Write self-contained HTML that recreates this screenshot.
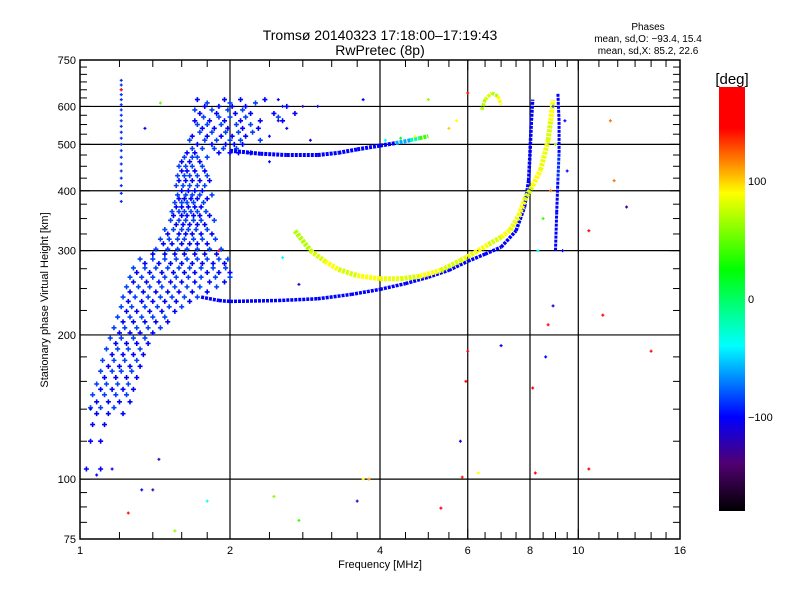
<!DOCTYPE html>
<html><head><meta charset="utf-8">
<style>
body{margin:0;background:#fff;}
svg{display:block;font-family:"Liberation Sans",sans-serif;}
</style></head>
<body>
<svg id="chart" width="800" height="600" viewBox="0 0 800 600">
<rect x="0" y="0" width="800" height="600" fill="#fff"/>
<defs>
<linearGradient id="cbgrad" x1="0" y1="0" x2="0" y2="1">
<stop offset="0" stop-color="#ff0000"/><stop offset="0.097" stop-color="#ff0000"/>
<stop offset="0.25" stop-color="#ffff00"/><stop offset="0.43" stop-color="#00ff00"/>
<stop offset="0.61" stop-color="#00ffff"/><stop offset="0.778" stop-color="#0000ff"/>
<stop offset="0.889" stop-color="#500070"/><stop offset="1" stop-color="#000000"/>
</linearGradient>
</defs>
<text x="380" y="40" text-anchor="middle" font-size="14">Tromsø 20140323 17:18:00–17:19:43</text>
<text x="380" y="55" text-anchor="middle" font-size="14">RwPretec (8p)</text>
<text x="648" y="30" text-anchor="middle" font-size="10">Phases</text>
<text x="648" y="42" text-anchor="middle" font-size="10">mean, sd,O: −93.4, 15.4</text>
<text x="648" y="54" text-anchor="middle" font-size="10">mean, sd,X:  85.2, 22.6</text>
<g id="grid"></g>
<g id="marks"></g>
<g id="axes"></g>
<text x="380" y="568" text-anchor="middle" font-size="11">Frequency [MHz]</text>
<text transform="translate(48,300) rotate(-90)" text-anchor="middle" font-size="11">Stationary phase Virtual Height [km]</text>
<rect x="719" y="87" width="26" height="424" fill="url(#cbgrad)"/>
<text x="732" y="84" text-anchor="middle" font-size="15">[deg]</text>
<g id="cbticks"></g>
</svg>
<script>
// ---- data ----
const cloudHeights = [620,600,580,560,540,520,500,480,460,440,420,400,385,370,355,340,325,310,295,282,270,258,246,235,224,213,202,192,182,172,163,154,145,137,130,120,105];
const cloudFreqs = [
[1.72,1.95,2.1,2.35],[1.78,1.9,2.02,2.15,2.6],[1.74,1.88,2.05,2.2,2.45,2.7],[1.7,1.82,1.95,2.1,2.3,2.55],
[1.76,1.86,1.98,2.12,2.28],[1.68,1.8,1.92,2.02,2.15],[1.72,1.84,1.96,2.04,2.12],[1.64,1.7,1.9,2.0,2.08,2.2],
[1.6,1.66,1.74],[1.6,1.64,1.7,1.78],[1.58,1.63,1.68,1.74,1.82],[1.6,1.65,1.7,1.76],[1.58,1.62,1.67,1.72,1.8],
[1.56,1.6,1.65,1.7,1.75],[1.54,1.6,1.64,1.69,1.74,1.82],[1.56,1.61,1.66,1.72,1.78],[1.5,1.58,1.63,1.68,1.75,1.84],
[1.47,1.53,1.6,1.66,1.72,1.8],[1.4,1.48,1.55,1.62,1.7,1.78,1.88],[1.35,1.44,1.52,1.6,1.68,1.76,1.85,1.95],
[1.3,1.38,1.46,1.54,1.62,1.7,1.8,1.9,2.0],[1.28,1.36,1.44,1.52,1.6,1.7,1.82,1.95],[1.26,1.34,1.42,1.5,1.58,1.68,1.8],
[1.25,1.33,1.4,1.48,1.56,1.66],[1.24,1.3,1.38,1.46,1.55],[1.22,1.28,1.35,1.42,1.5],[1.2,1.26,1.32,1.4],
[1.18,1.24,1.3,1.37],[1.16,1.22,1.28,1.34],[1.14,1.2,1.26,1.32],[1.12,1.18,1.24,1.3],[1.1,1.16,1.22,1.28],
[1.08,1.14,1.2,1.26],[1.08,1.14,1.22],[1.06,1.12],[1.05,1.1],[1.03,1.1]];
const cloudHeights2 = [610,590,570,550,530,510,490,470,450,430,410,392,378,362,347,332,317,302,288,276,264,252,240,229,218,207,197,187,177,168,158,150,141];
const cloudFreqs2 = [
[1.8,2.0,2.25],[1.7,1.84,1.98,2.12],[1.77,1.9,2.0,2.15,2.5],[1.72,1.8,1.92,2.06,2.2],[1.74,1.84,1.96,2.08,2.22],
[1.66,1.78,1.88,2.0,2.1,2.3],[1.68,1.76,1.86,1.94,2.06],[1.62,1.68,1.72,1.8],[1.58,1.63,1.68,1.76],
[1.57,1.62,1.66,1.72,1.8],[1.56,1.61,1.66,1.72,1.78],[1.57,1.63,1.68,1.74,1.84],[1.55,1.6,1.64,1.69,1.77],
[1.53,1.58,1.62,1.67,1.72,1.79],[1.52,1.58,1.63,1.69,1.75,1.86],[1.48,1.54,1.6,1.65,1.71,1.8],
[1.45,1.51,1.57,1.62,1.69,1.76,1.87],[1.42,1.5,1.57,1.64,1.72,1.82,1.92],[1.32,1.4,1.48,1.56,1.64,1.72,1.8,1.9,1.98],
[1.28,1.35,1.42,1.5,1.58,1.66,1.75,1.85,1.96],[1.26,1.33,1.4,1.48,1.56,1.65,1.75,1.87,2.0],[1.24,1.31,1.38,1.46,1.55,1.64,1.74,1.88],
[1.22,1.29,1.37,1.45,1.53,1.62,1.72],[1.21,1.27,1.35,1.43,1.51,1.6],[1.19,1.26,1.33,1.4,1.48],[1.17,1.23,1.3,1.37,1.45],
[1.15,1.21,1.28,1.35],[1.13,1.19,1.25,1.32],[1.11,1.17,1.23,1.3],[1.1,1.16,1.21,1.27],[1.08,1.13,1.19,1.25],
[1.06,1.12,1.18,1.24],[1.05,1.1,1.17]];
const cloudPhase = -100;
const columnFreq = 1.21;
const columnHeights = [380,395,410,425,440,455,470,485,500,515,530,545,560,575,590,605,620,635,650,665,680];
const traceO = [[1.75,240,-100],[1.9,236,-100],[2,235,-100],[2.5,236,-100],[3,238,-100],[3.5,243,-100],[4,249,-100],[4.5,256,-100],[5,264,-100],[5.5,273,-100],[6,285,-100],[6.5,295,-100],[7,305,-100],[7.5,330,-100],[7.8,370,-100],[7.95,420,-100],[8,480,-100],[8.05,560,-100],[8.1,620,-90]];
const traceUpper = [[2,485,-100],[2.3,478,-100],[2.6,475,-100],[3,475,-100],[3.3,480,-100],[3.6,488,-100],[4,497,-100],[4.3,503,-60],[4.6,510,-20],[4.8,515,40],[5,520,80]];
const traceX = [[2.7,330,70],[2.9,300,80],[3.1,285,90],[3.3,274,80],[3.6,266,90],[4,262,85],[4.4,262,80],[4.8,265,90],[5.3,273,80],[5.8,286,85],[6.2,297,90],[6.6,309,80],[7,320,90],[7.3,331,85],[7.6,355,90],[7.8,383,80],[8.1,410,90],[8.4,442,85],[8.7,510,80],[8.8,560,90],[8.9,619,85]];
const traceCusp = [[9,300,-100],[9.05,360,-100],[9.1,420,-90],[9.15,480,-100],[9.15,560,-100],[9.1,640,-100]];
const traceArc = [[6.4,590,70],[6.5,620,80],[6.7,640,70],[6.9,630,90],[7.0,605,80]];
const scatterPts = [[1.21,650,140],[1.45,610,50],[1.35,540,-100],[1.05,140,-100],[1.08,102,-100],[1.16,105,-100],[1.33,95,-100],[1.25,85,140],[1.4,95,-120],[1.44,110,-120],[1.55,78,60],[1.8,90,-40],[2.45,92,60],[2.75,82,40],[3.6,90,-110],[3.7,100,90],[3.8,100,110],[5.3,87,150],[5.85,101,140],[6.3,103,90],[8.2,103,150],[10.5,105,150],[10.5,330,150],[11.2,220,150],[11.8,420,120],[11.6,560,120],[12.5,370,-130],[14,185,150],[9.3,300,-100],[8.9,230,-110],[8.7,210,150],[8.6,180,-100],[8.1,155,150],[7.0,190,-100],[6,185,150],[5.95,160,150],[5.8,120,-110],[5.0,620,60],[5.5,540,100],[5.7,560,90],[4.1,510,-40],[4.4,515,20],[4.7,520,90],[3.0,600,-100],[2.9,510,-110],[3.7,620,-100],[2.55,290,-40],[2.75,255,-110],[2.4,460,-100],[1.9,300,150],[9.5,440,-100],[8.9,600,-80],[9.4,560,-100],[6.0,640,140],[2.5,620,-100],[2.55,600,-100],[2.5,560,-110],[2.6,540,-100],[2.8,600,-120],[2.4,520,-100],[8.5,350,40],[8.3,300,-40],[8.8,400,120],[9.0,500,60]];
const yTickLabels = [75,100,200,300,400,500,600,750];
const yGrid = [100,200,300,400,500,600];
const yMinor = [81.25,87.5,93.75,120,140,160,180,225,250,275,325,350,375,425,450,475,525,550,575,625,650,675,700,725];
const xTickLabels = [1,2,4,6,8,10,16];
const xGrid = [2,4,6,8,10];
const xMinor = [1.2,1.4,1.6,1.8,2.4,2.8,3.2,3.6,4.5,5,5.5,6.5,7,7.5,8.5,9,9.5,11,12,13,14,15];
const cbLabels = [100,0,-100];

// ---- scales ----
const X0=80,X1=680,Y0=60,Y1=539;
function xs(f){return X0+150*Math.log2(f);}
function ys(h){return Y1-479*Math.log10(h/75);}
function cbY(v){return 87+(180-v)/360*424;}
const stops=[[-180,0,0,0],[-140,80,0,110],[-100,0,0,255],[-40,0,255,255],[25,0,255,0],[90,255,255,0],[145,255,0,0],[180,255,0,0]];
function col(v){
  for(let i=0;i<stops.length-1;i++){const a=stops[i],b=stops[i+1];
    if(v<=b[0]){const t=(v-a[0])/(b[0]-a[0]);
      return 'rgb('+[1,2,3].map(k=>Math.round(a[k]+(b[k]-a[k])*t)).join(',')+')';}}
  return 'rgb(255,0,0)';}
const NS='http://www.w3.org/2000/svg';
function mk(tag,attrs,parent){const e=document.createElementNS(NS,tag);for(const k in attrs)e.setAttribute(k,attrs[k]);parent.appendChild(e);return e;}
const grid=document.getElementById('grid'),marks=document.getElementById('marks'),axes=document.getElementById('axes'),cbt=document.getElementById('cbticks');

// grid
yGrid.forEach(h=>{const l=mk('line',{x1:X0,x2:X1,y1:ys(h),y2:ys(h),stroke:'#000','stroke-width':1.2},grid);

});
xGrid.forEach(f=>{const l=mk('line',{x1:xs(f),x2:xs(f),y1:Y0,y2:Y1,stroke:'#000','stroke-width':1.2},grid);

});

// marks
function plus(f,h,p,s,w){const x=xs(f),y=ys(h);
  const e=mk('path',{d:`M${x-s} ${y}H${x+s}M${x} ${y-s}V${y+s}`,stroke:col(p),'stroke-width':w,fill:'none'},marks);
  return e;}
cloudHeights.forEach((h,i)=>{cloudFreqs[i].forEach(f=>{
  const e=plus(f,h,cloudPhase,2.5,1.6);
  
  });});
cloudHeights2.forEach((h,i)=>{cloudFreqs2[i].forEach(f=>{
  const e=plus(f,h,-85,2.5,1.6);
  
  });});
columnHeights.forEach(h=>{const e=plus(columnFreq,h,-90,1.5,1.2);
  
  });
function trace(arr,w,name){for(let i=0;i<arr.length-1;i++){const a=arr[i],b=arr[i+1];
  const l=mk('line',{x1:xs(a[0]),y1:ys(a[1]),x2:xs(b[0]),y2:ys(b[1]),stroke:col(a[2]),'stroke-width':w,'stroke-dasharray':'3 1'},marks);
  
  }}
trace(traceO,3.5,'o-mode-trace');
trace(traceUpper,4,'upper-trace');
trace(traceX,5,'x-mode-trace');
trace(traceCusp,3,'cusp-trace');
trace(traceArc,3.5,'arc-trace');
scatterPts.forEach(p=>{const e=plus(p[0],p[1],p[2],1.5,1.2);
  
  });

// axes frame and ticks
const fr=mk('rect',{x:X0,y:Y0,width:X1-X0,height:Y1-Y0,fill:'none',stroke:'#000','stroke-width':1.5},axes);


yTickLabels.forEach(h=>{const y=ys(h);
  mk('line',{x1:X0,x2:X0+10,y1:y,y2:y,stroke:'#000'},axes);mk('line',{x1:X1-10,x2:X1,y1:y,y2:y,stroke:'#000'},axes);
  const t=mk('text',{x:X0-4,y:y+4,'text-anchor':'end','font-size':11},axes);t.textContent=h;
  
  });
yMinor.forEach(h=>{const y=ys(h);mk('line',{x1:X0,x2:X0+7,y1:y,y2:y,stroke:'#000'},axes);mk('line',{x1:X1-7,x2:X1,y1:y,y2:y,stroke:'#000'},axes);});
xTickLabels.forEach(f=>{const x=xs(f);
  mk('line',{x1:x,x2:x,y1:Y1,y2:Y1-10,stroke:'#000'},axes);mk('line',{x1:x,x2:x,y1:Y0,y2:Y0+10,stroke:'#000'},axes);
  const t=mk('text',{x:x,y:Y1+15,'text-anchor':'middle','font-size':11},axes);t.textContent=f;
  
  });
xMinor.forEach(f=>{const x=xs(f);mk('line',{x1:x,x2:x,y1:Y1,y2:Y1-7,stroke:'#000'},axes);mk('line',{x1:x,x2:x,y1:Y0,y2:Y0+7,stroke:'#000'},axes);});
cbLabels.forEach(v=>{const t=mk('text',{x:748,y:cbY(v)+4,'font-size':11},cbt);t.textContent=v===-100?'−100':v;
  
  });
</script>
</body></html>
